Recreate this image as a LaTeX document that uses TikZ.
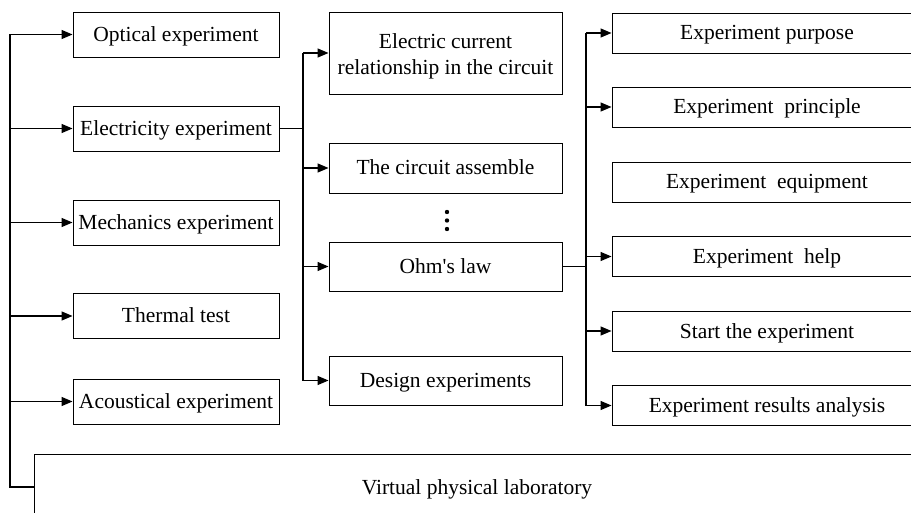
\documentclass[tikz,border=0pt]{standalone}
\usepackage{fontspec}
\setmainfont{Liberation Serif}[Ligatures=TeXOff]
\usetikzlibrary{arrows.meta}
\begin{document}
\begin{tikzpicture}[x=1pt,y=-1pt,
 box/.style={draw, line width=0.9pt, rectangle, inner sep=0pt, align=center, font=\fontsize{21.5}{26}\selectfont},
 one/.style={text height=16pt, text depth=2pt},
 lbox/.style={box, one, minimum width=206pt, minimum height=45pt},
 mbox/.style={box, minimum width=233pt},
 rbox/.style={box, one, minimum width=310pt, minimum height=40pt},
 conn/.style={line width=1.2pt},
 arr/.style={conn, -{Triangle[length=11pt,width=9pt]}}
]
\useasboundingbox (0,0) rectangle (911,513);
% left column
\node[lbox] (opt) at (176,34.5) {Optical experiment};
\node[lbox] (ele) at (176,128.5) {Electricity experiment};
\node[lbox] (mec) at (176,222.5) {Mechanics experiment};
\node[lbox] (the) at (176,316) {Thermal test};
\node[lbox] (aco) at (176,401.5) {Acoustical experiment};
% middle column
\node[mbox, minimum height=82pt] (cur) at (445.5,53) {\rule{0pt}{5pt}\\[-10pt]Electric current\\relationship in the circuit};
\node[mbox, one, minimum height=50pt] (asm) at (445.5,168) {The circuit assemble};
\node[mbox, one, minimum height=49pt] (ohm) at (445.5,266.5) {Ohm's law};
\node[mbox, one, minimum height=49pt] (des) at (445.5,380.5) {Design experiments};
\fill (447,212) circle (2.2) (447,220.5) circle (2.2) (447,229) circle (2.2);
% right column
\node[rbox] (pur) at (767,33) {Experiment purpose};
\node[rbox] (pri) at (767,107) {Experiment\ \ principle};
\node[rbox] (equ) at (767,182) {Experiment\ \ equipment};
\node[rbox] (hel) at (767,256.5) {Experiment\ \ help};
\node[rbox] (sta) at (767,331) {Start the experiment};
\node[rbox] (res) at (767,405.5) {Experiment results analysis};
% bottom
\node[box, one, minimum width=886pt, minimum height=66pt] (vpl) at (477,487) {Virtual physical laboratory};
% left connectors
\coordinate (lx) at (10,0);
\draw[conn] (lx |- opt.west) |- (vpl.west);
\foreach \n in {opt,ele,mec,the,aco} \draw[arr] (lx |- \n.west) -- (\n.west);
% middle connectors
\coordinate (mx) at (303,0);
\draw[conn] (ele.east) -- (mx |- ele.east);
\draw[conn] (mx |- cur.west) -- (mx |- des.west);
\foreach \n in {cur,asm,ohm,des} \draw[arr] (mx |- \n.west) -- (\n.west);
% right connectors
\coordinate (rx) at (586,0);
\draw[conn] (ohm.east) -- (rx |- ohm.east);
\draw[conn] (rx |- pur.west) -- (rx |- res.west);
\foreach \n in {pur,pri,hel,sta,res} \draw[arr] (rx |- \n.west) -- (\n.west);
\end{tikzpicture}
\end{document}
